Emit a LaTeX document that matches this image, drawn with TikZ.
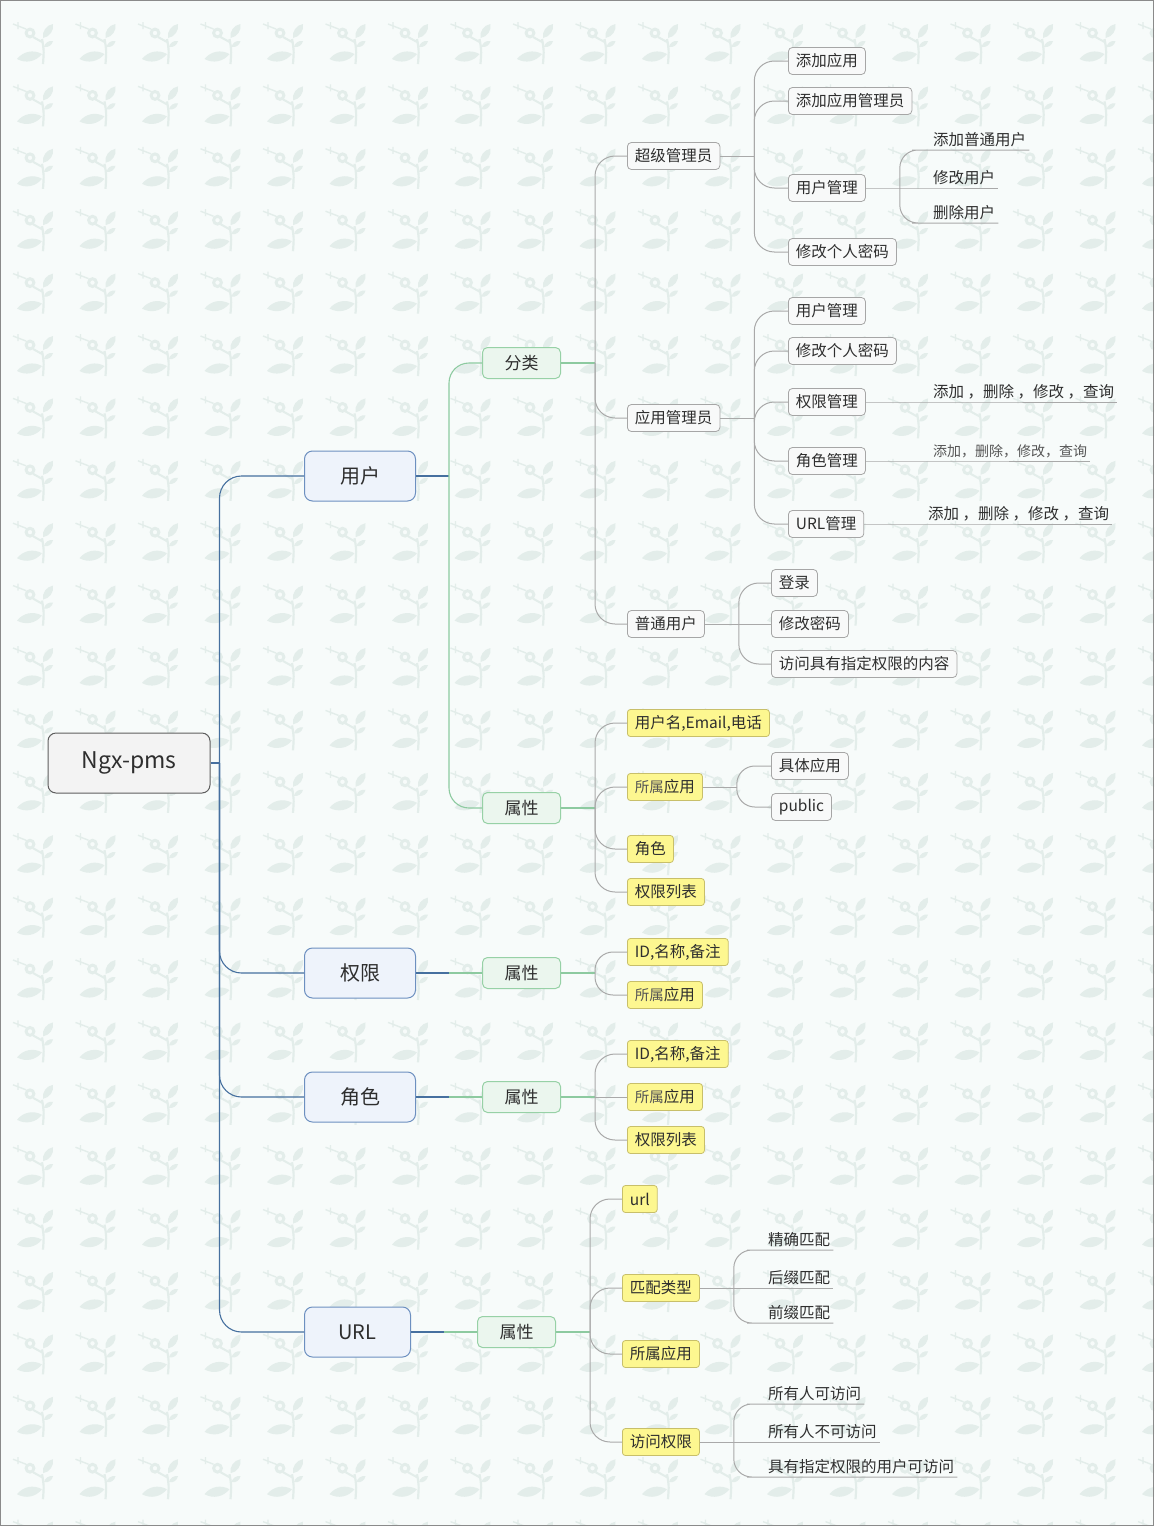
\documentclass[tikz,border=0pt]{standalone}
\usepackage{fontspec}
\setmainfont{Noto Sans CJK SC}
\usepackage{xcolor}
\definecolor{bgpaper}{HTML}{F7FBFA}
\definecolor{leafgray}{HTML}{E3EDEA}
\definecolor{framegray}{HTML}{8A8A8A}
\definecolor{textdark}{HTML}{2E2E2E}
\definecolor{textsoft}{HTML}{555555}
\definecolor{rootfill}{HTML}{F3F3F3}
\definecolor{rootdraw}{HTML}{5E5E5E}
\definecolor{topfill}{HTML}{EEF3FB}
\definecolor{topdraw}{HTML}{6D90C0}
\definecolor{catfill}{HTML}{EBF6EE}
\definecolor{catdraw}{HTML}{97D1A6}
\definecolor{itemfill}{HTML}{F8F9F9}
\definecolor{itemdraw}{HTML}{A6A6A6}
\definecolor{attrfill}{HTML}{FDF790}
\definecolor{attrdraw}{HTML}{C8BF6A}
\definecolor{blueline}{HTML}{46709F}
\definecolor{greenline}{HTML}{8DCAA0}
\definecolor{grayline}{HTML}{A9A9A9}
\usetikzlibrary{positioning}
\newcommand{\sizept}[1]{\fontsize{#1}{#1}\selectfont}

\begin{document}
\begin{tikzpicture}[x=1pt, y=-1pt,
  rootbox/.style={draw=rootdraw, fill=rootfill, rounded corners=8pt, line width=1pt,
    minimum width=162pt, minimum height=60pt, font=\sizept{23}, text=textdark},
  topbox/.style={draw=topdraw, fill=topfill, rounded corners=8pt, line width=1pt,
    anchor=west, minimum width=111pt, minimum height=50pt, font=\sizept{20}, text=textdark},
  catbox/.style={draw=catdraw, fill=catfill, rounded corners=5pt, line width=1pt,
    anchor=west, minimum width=78pt, minimum height=31pt, font=\sizept{17}, text=textdark},
  itembox/.style={draw=itemdraw, fill=itemfill, rounded corners=4pt, line width=0.8pt,
    anchor=west, inner xsep=7.5pt, minimum height=27pt, font=\sizept{15.5}, text=textdark},
  attrbox/.style={draw=attrdraw, fill=attrfill, rounded corners=3pt, line width=0.8pt,
    anchor=west, inner xsep=7.5pt, minimum height=27pt, font=\sizept{15.5}, text=textdark},
  leaftext/.style={anchor=south west, inner xsep=3pt, inner ysep=3pt,
    font=\sizept{15.5}, text=textdark},
  bluelink/.style={draw=blueline, line width=1.1pt},
  greenlink/.style={draw=greenline, line width=1.1pt},
  graylink/.style={draw=grayline, line width=1pt}]

\useasboundingbox (0,0) rectangle (1154,1526);
\fill[bgpaper] (0,0) rectangle (1154,1526);

% background leaves
\begin{scope}
\clip (0,0) rectangle (1154,1526);
\foreach \i in {0,...,18}{
  \foreach \j in {0,...,24}{
    \begin{scope}[shift={(13+62.5*\i,22+62.4*\j)}]
      \draw[leafgray, line width=2.2pt] (29,17) .. controls (31,28) .. (30,42);
      \fill[leafgray] (29,32) to[bend left=40] (4,37) to[bend left=40] (29,32);
      \fill[leafgray] (30,16) to[bend left=45] (40,2) to[bend left=45] (30,16);
      \fill[leafgray] (31,25) to[bend left=45] (40,19) to[bend left=45] (31,25);
      \fill[leafgray, even odd rule] (17,11) circle (5.5) (17,11) circle (2.3);
      \draw[leafgray, line width=2pt] (20,15) -- (29,20);
      \draw[leafgray, line width=1.4pt] (0,2) -- (13,7) (5,0) -- (5,7);
    \end{scope}
  }
}
\end{scope}
\draw[framegray] (0.5,0.5) rectangle (1153.5,1525.5);

% main topics
\node[rootbox] (root) at (129,763) {Ngx-pms};
\node[topbox] (yonghu) at (304,476) {用户};
\node[topbox] (quanxian) at (304,973) {权限};
\node[topbox] (juese) at (304,1097) {角色};
\node[topbox, minimum width=106pt] (urlnode) at (304,1332) {URL};

\node[catbox] (fenlei) at (482,363) {分类};
\node[catbox] (yhattr) at (482,808) {属性};
\node[catbox] (qxattr) at (482,973) {属性};
\node[catbox] (jsattr) at (482,1097) {属性};
\node[catbox] (urlattr) at (477,1332) {属性};

% user kinds
\node[itembox] (super) at (627,156) {超级管理员};
\node[itembox] (appadm) at (627,418) {应用管理员};
\node[itembox] (normal) at (627,624) {普通用户};

\node[itembox] (su1) at (788,61) {添加应用};
\node[itembox] (su2) at (788,101) {添加应用管理员};
\node[itembox] (su3) at (788,188) {用户管理};
\node[itembox] (su4) at (788,252) {修改个人密码};
\node[leaftext] (su3a) at (930,150) {添加普通用户};
\node[leaftext] (su3b) at (930,188) {修改用户};
\node[leaftext] (su3c) at (930,223) {删除用户};

\node[itembox] (ad1) at (788,311) {用户管理};
\node[itembox] (ad2) at (788,351) {修改个人密码};
\node[itembox] (ad3) at (788,402) {权限管理};
\node[itembox] (ad4) at (788,461) {角色管理};
\node[itembox] (ad5) at (788,524) {URL管理};
\node[leaftext] (ad3a) at (930,402) {添加 ，删除 ，修改 ，查询};
\node[leaftext, font=\sizept{14}, text=textsoft] (ad4a) at (930,461) {添加，删除，修改，查询};
\node[leaftext] (ad5a) at (925,524) {添加 ，删除 ，修改 ，查询};

\node[itembox] (no1) at (771,583) {登录};
\node[itembox] (no2) at (771,624) {修改密码};
\node[itembox] (no3) at (771,664) {访问具有指定权限的内容};

% user attributes
\node[attrbox] (ua1) at (627,723) {用户名,Email,电话};
\node[attrbox] (ua2) at (627,787) {{\color{textsoft}\sizept{14.5}所属}应用};
\node[attrbox] (ua3) at (627,849) {角色};
\node[attrbox] (ua4) at (627,892) {权限列表};
\node[itembox] (ua2a) at (771,766) {具体应用};
\node[itembox] (ua2b) at (771,807) {public};

% permission / role attributes
\node[attrbox] (qa1) at (627,952) {ID,名称,备注};
\node[attrbox] (qa2) at (627,995) {{\color{textsoft}\sizept{14.5}所属}应用};
\node[attrbox] (ra1) at (627,1054) {ID,名称,备注};
\node[attrbox] (ra2) at (627,1097) {{\color{textsoft}\sizept{14.5}所属}应用};
\node[attrbox] (ra3) at (627,1140) {权限列表};

% url attributes
\node[attrbox] (la1) at (622,1199) {url};
\node[attrbox] (la2) at (622,1288) {匹配类型};
\node[attrbox] (la3) at (622,1354) {所属应用};
\node[attrbox] (la4) at (622,1442) {访问权限};
\node[leaftext] (la2a) at (765,1250) {精确匹配};
\node[leaftext] (la2b) at (765,1288) {后缀匹配};
\node[leaftext] (la2c) at (765,1323) {前缀匹配};
\node[leaftext] (la4a) at (765,1404) {所有人可访问};
\node[leaftext] (la4b) at (765,1442) {所有人不可访问};
\node[leaftext] (la4c) at (765,1477) {具有指定权限的用户可访问};

% connectors
\draw[bluelink] (root.east) -- ++(9,0);
\foreach \c in {yonghu,quanxian,juese,urlnode}
  \draw[bluelink, rounded corners=22pt] (root.east) ++(9,0) |- (\c.west);

\draw[bluelink] (yonghu.east) -- ++(33,0);
\foreach \c in {fenlei,yhattr}
  \draw[greenlink, rounded corners=20pt] (yonghu.east) ++(33,0) |- (\c.west);
\draw[bluelink] (quanxian.east) -- ++(33,0);
\draw[greenlink] (quanxian.east) ++(33,0) -- (qxattr.west);
\draw[bluelink] (juese.east) -- ++(33,0);
\draw[greenlink] (juese.east) ++(33,0) -- (jsattr.west);
\draw[bluelink] (urlnode.east) -- ++(33,0);
\draw[greenlink] (urlnode.east) ++(33,0) -- (urlattr.west);

\draw[greenlink] (fenlei.east) -- ++(34,0);
\foreach \c in {super,appadm,normal}
  \draw[graylink, rounded corners=20pt] (fenlei.east) ++(34,0) |- (\c.west);

\draw[graylink] (super.east) -- ++(34,0);
\foreach \c in {su1,su2,su3,su4}
  \draw[graylink, rounded corners=20pt] (super.east) ++(34,0) |- (\c.west);
\draw[graylink] (su3.east) -- (su3b.south west) -- (su3b.south east);
\foreach \c in {su3a,su3c}
  \draw[graylink, rounded corners=18pt] (su3.east) ++(34,0) |- (\c.south west) -- (\c.south east);

\draw[graylink] (appadm.east) -- ++(34,0);
\foreach \c in {ad1,ad2,ad3,ad4,ad5}
  \draw[graylink, rounded corners=20pt] (appadm.east) ++(34,0) |- (\c.west);
\foreach \c in {ad3,ad4,ad5}
  \draw[graylink] (\c.east) -- (\c a.south west) -- (\c a.south east);

\draw[graylink] (normal.east) -- (no2.west);
\foreach \c in {no1,no3}
  \draw[graylink, rounded corners=20pt] (normal.east) ++(34,0) |- (\c.west);

\draw[greenlink] (yhattr.east) -- ++(34,0);
\foreach \c in {ua1,ua2,ua3,ua4}
  \draw[graylink, rounded corners=20pt] (yhattr.east) ++(34,0) |- (\c.west);
\draw[graylink] (ua2.east) -- ++(34,0);
\foreach \c in {ua2a,ua2b}
  \draw[graylink, rounded corners=18pt] (ua2.east) ++(34,0) |- (\c.west);

\draw[greenlink] (qxattr.east) -- ++(34,0);
\foreach \c in {qa1,qa2}
  \draw[graylink, rounded corners=18pt] (qxattr.east) ++(34,0) |- (\c.west);

\draw[greenlink] (jsattr.east) -- ++(34,0);
\draw[graylink] (jsattr.east) ++(34,0) -- (ra2.west);
\foreach \c in {ra1,ra3}
  \draw[graylink, rounded corners=20pt] (jsattr.east) ++(34,0) |- (\c.west);

\draw[greenlink] (urlattr.east) -- ++(34,0);
\foreach \c in {la1,la2,la3,la4}
  \draw[graylink, rounded corners=20pt] (urlattr.east) ++(34,0) |- (\c.west);
\draw[graylink] (la2.east) -- (la2b.south west) -- (la2b.south east);
\foreach \c in {la2a,la2c}
  \draw[graylink, rounded corners=18pt] (la2.east) ++(34,0) |- (\c.south west) -- (\c.south east);
\draw[graylink] (la4.east) -- (la4b.south west) -- (la4b.south east);
\foreach \c in {la4a,la4c}
  \draw[graylink, rounded corners=18pt] (la4.east) ++(34,0) |- (\c.south west) -- (\c.south east);

\end{tikzpicture}
\end{document}
